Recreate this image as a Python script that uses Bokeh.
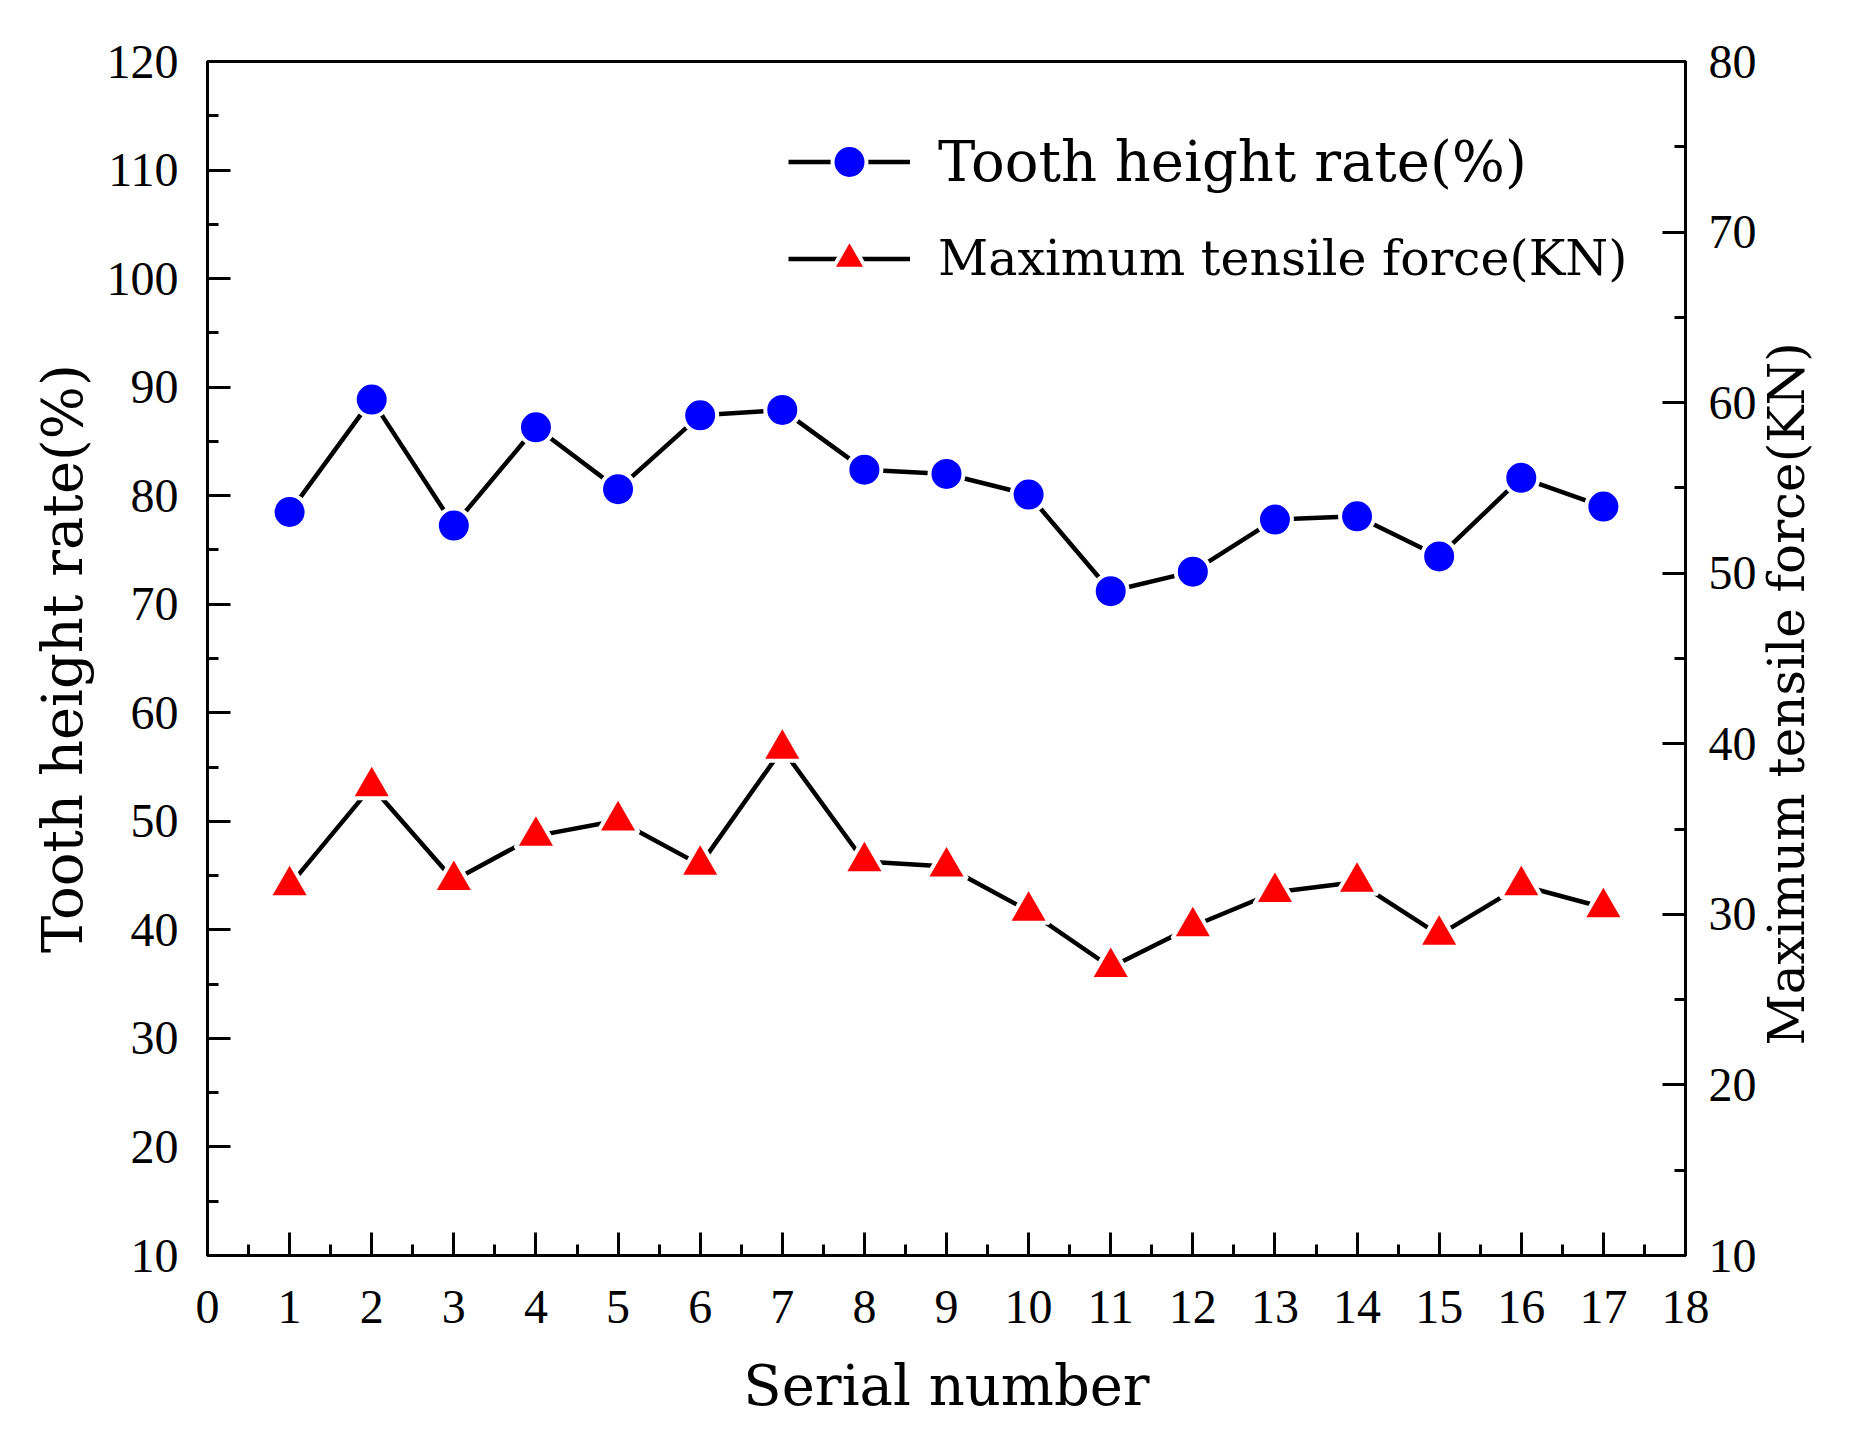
import math
from bokeh.plotting import figure
from bokeh.models import (Range1d, LinearAxis, FixedTicker, Legend, LegendItem)
from bokeh.embed import file_html
from bokeh.resources import INLINE

# ---- data ----
serial = list(range(1, 18))
tooth_height_rate = [78.5, 88.85, 77.25, 86.3, 80.6, 87.4, 87.9, 82.4, 82.0,
                     80.1, 71.2, 73.0, 77.8, 78.1, 74.4, 81.65, 79.0]
max_tensile_force = [31.7, 37.5, 32.0, 34.6, 35.5, 32.9, 39.7, 33.1, 32.8,
                     30.2, 26.9, 29.3, 31.3, 31.9, 28.8, 31.7, 30.4]
x_ticks = list(range(0, 19))
left_ticks = list(range(10, 121, 10))
right_ticks = list(range(10, 81, 10))
x_title = "Serial number"
left_title = "Tooth height rate(%)"
right_title = "Maximum tensile force(KN)"
legend_labels = ["Tooth height rate(%)", "Maximum tensile force(KN)"]

TICK_FONT = "Liberation Serif"
TEXT_FONT = "DejaVu Serif"
TICK_SIZE = "48px"
TITLE_SIZE = "56px"

FIG_W, FIG_H = 1851, 1422
FRAME_W, FRAME_H = 1478, 1194
p = figure(width=FIG_W, height=FIG_H, output_backend="svg", toolbar_location=None,
           x_range=Range1d(0, 18), y_range=Range1d(10, 120),
           min_border_left=207, min_border_right=FIG_W - 207 - FRAME_W,
           min_border_top=61, min_border_bottom=FIG_H - 61 - FRAME_H)
p.extra_y_ranges = {"force": Range1d(10, 80)}
p.xgrid.visible = False
p.ygrid.visible = False
p.outline_line_color = "black"
p.outline_line_width = 3
p.background_fill_color = "white"
p.border_fill_color = "white"


def style_axis(ax, ticks, minor, label_standoff, title_standoff):
    ax.ticker = FixedTicker(ticks=ticks, minor_ticks=minor)
    ax.axis_line_color = "black"
    ax.axis_line_width = 3
    ax.major_tick_line_color = "black"
    ax.major_tick_line_width = 3
    ax.minor_tick_line_color = "black"
    ax.minor_tick_line_width = 3
    ax.major_tick_in = 23
    ax.major_tick_out = 0
    ax.minor_tick_in = 11
    ax.minor_tick_out = 0
    ax.major_label_text_font = TICK_FONT
    ax.major_label_text_font_size = TICK_SIZE
    ax.major_label_text_color = "black"
    ax.major_label_standoff = label_standoff
    ax.axis_label_text_font = TEXT_FONT
    ax.axis_label_text_font_size = TITLE_SIZE
    ax.axis_label_text_font_style = "normal"
    ax.axis_label_text_color = "black"
    ax.axis_label_standoff = title_standoff


xa = p.xaxis[0]
xa.axis_label = x_title
style_axis(xa, x_ticks, [t + 0.5 for t in x_ticks[:-1]], 35, 27)

ya = p.yaxis[0]
ya.axis_label = left_title
style_axis(ya, left_ticks, [t + 5 for t in left_ticks[:-1]], 29, 9)

# right axis: title reads bottom-to-top as in the reference
ra = LinearAxis(y_range_name="force")
style_axis(ra, right_ticks, [t + 5 for t in right_ticks[:-1]], 23, 27)
ra.axis_label_text_font_size = "50px"
props = LinearAxis.properties()
if "axis_label_orientation" in props and "axis_label_align" in props:
    ra.axis_label_orientation = math.pi / 2
    ra.axis_label_align = "start"
    ra.axis_label = "\u2003" * 4 + "\u2009" + right_title
else:
    ra.axis_label = right_title
p.add_layout(ra, "right")

# ---- series ----
l1 = p.line(serial, tooth_height_rate, line_color="black", line_width=4.5)
s1 = p.scatter(serial, tooth_height_rate, marker="circle", size=34,
               fill_color="#0000ff", line_color="white", line_width=4)
l2 = p.line(serial, max_tensile_force, line_color="black", line_width=4.5,
            y_range_name="force")
s2 = p.scatter(serial, max_tensile_force, marker="triangle", size=41,
               fill_color="#ff0000", line_color="white", line_width=4,
               y_range_name="force")


def make_legend(item, vy, font_size):
    return Legend(items=[item], location=(581, vy), orientation="vertical",
                  glyph_width=122, glyph_height=85, label_height=97,
                  label_standoff=28, spacing=0, padding=0, margin=0,
                  border_line_color=None, background_fill_alpha=0,
                  label_text_font=TEXT_FONT, label_text_font_size=font_size,
                  label_text_color="black")


p.add_layout(make_legend(LegendItem(label=legend_labels[0], renderers=[l1, s1]),
                         1045, "56px"), "center")
p.add_layout(make_legend(LegendItem(label=legend_labels[1], renderers=[l2, s2]),
                         948, "49px"), "center")

open("out.html", "w").write(file_html(p, INLINE))
